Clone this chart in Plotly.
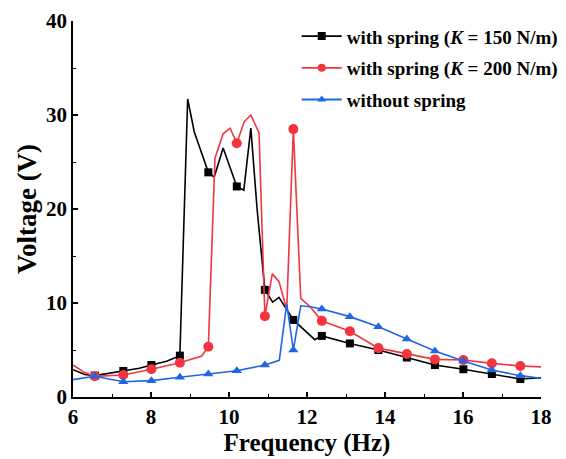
import plotly.graph_objects as go

# Frequencies at which the measured points are marked (shared by all curves)
marker_freq = [6.56, 7.29, 8.01, 8.74, 9.47, 10.20, 10.92, 11.65,
               12.38, 13.10, 13.83, 14.56, 15.28, 16.01, 16.74, 17.47]

# With spring, K = 150 N/m
freq_k150 = [6.00, 6.30, 6.56, 7.29, 7.70, 8.01, 8.40, 8.74, 8.94, 9.11,
             9.47, 9.62, 9.85, 10.20, 10.38, 10.56, 10.72, 10.92, 11.12,
             11.28, 11.65, 12.20, 12.38, 13.10, 13.83, 14.56, 15.28, 16.01,
             16.74, 17.47, 18.00]
volt_k150 = [2.90, 2.40, 2.27, 2.77, 3.05, 3.40, 3.80, 4.40, 31.7, 28.2,
             23.9, 23.4, 26.5, 22.4, 22.0, 28.6, 20.0, 11.4, 10.1,
             10.6, 8.2, 6.1, 6.5, 5.7, 5.0, 4.2, 3.4, 2.95,
             2.45, 1.91, 2.05]

# With spring, K = 200 N/m
freq_k200 = [6.00, 6.30, 6.56, 7.29, 8.01, 8.40, 8.74, 9.30, 9.47, 9.64,
             9.85, 10.03, 10.20, 10.39, 10.56, 10.77, 10.92, 11.11, 11.28,
             11.48, 11.65, 11.84, 12.08, 12.38, 13.10, 13.83, 14.56, 15.28,
             16.01, 16.74, 17.47, 18.00]
volt_k200 = [3.40, 2.60, 2.20, 2.34, 2.95, 3.30, 3.65, 4.36, 5.35, 25.4,
             28.0, 28.6, 27.0, 29.3, 30.0, 28.1, 8.6, 13.1, 12.3,
             9.3, 28.5, 10.5, 9.6, 8.1, 7.0, 5.2, 4.57, 4.0,
             3.94, 3.58, 3.30, 3.20]

# Without spring
freq_none = [6.00, 6.56, 7.29, 8.01, 8.74, 9.47, 10.20, 10.92, 11.29,
             11.48, 11.65, 11.84, 12.08, 12.38, 13.10, 13.83, 14.56, 15.28,
             16.01, 16.74, 17.47, 18.00]
volt_none = [1.85, 2.20, 1.63, 1.74, 2.10, 2.45, 2.80, 3.40, 3.90,
             9.90, 5.00, 9.70, 9.60, 9.36, 8.55, 7.48, 6.17, 4.89,
             3.83, 2.87, 2.27, 2.00]

series = [
    ("with spring (<i>K</i> = 150 N/m)", freq_k150, volt_k150, "#000000", "square", 8),
    ("with spring (<i>K</i> = 200 N/m)", freq_k200, volt_k200, "#f2353f", "circle", 10),
    ("without spring", freq_none, volt_none, "#1f66e5", "triangle-up", 9),
]

fig = go.Figure()
for i, (name, fx, vy, color, symbol, msize) in enumerate(series):
    # continuous response curve
    fig.add_trace(go.Scatter(x=fx, y=vy, mode="lines", showlegend=False,
                             line=dict(color=color, width=1.6)))
    # marked measurement points taken from the same curve
    mx = [f for f in fx if f in marker_freq]
    my = [v for f, v in zip(fx, vy) if f in marker_freq]
    fig.add_trace(go.Scatter(x=mx, y=my, mode="markers", showlegend=False,
                             marker=dict(color=color, symbol=symbol, size=msize)))
    # legend entry
    fig.add_trace(go.Scatter(x=[None], y=[None], mode="lines+markers", name=name,
                             legendgroup=f"g{i}",
                             line=dict(color=color, width=1.8),
                             marker=dict(color=color, symbol=symbol, size=8)))

serif = "Liberation Serif"
tick_font = dict(family=serif, size=21, color="black", weight="bold")

fig.update_layout(
    width=566, height=459,
    margin=dict(l=73, r=25, t=21, b=62, autoexpand=False),
    paper_bgcolor="white", plot_bgcolor="white",
    font=dict(family=serif, color="black"),
    xaxis=dict(range=[6, 18], tick0=6, dtick=2, showgrid=False, zeroline=False,
               showline=True, linecolor="black", linewidth=1.5, automargin=False,
               ticks="inside", ticklen=5, tickwidth=1.5, tickcolor="black",
               minor=dict(dtick=1, ticks="inside", ticklen=3, tickcolor="black", tickwidth=1.2),
               tickfont=tick_font,
               title=dict(text="Frequency (Hz)", standoff=6,
                          font=dict(family=serif, size=25, color="black", weight="bold"))),
    yaxis=dict(range=[0, 40], tick0=0, dtick=10, showgrid=False, zeroline=False,
               showline=True, linecolor="black", linewidth=1.5, automargin=False,
               ticks="inside", ticklen=5, tickwidth=1.5, tickcolor="black",
               minor=dict(dtick=5, ticks="inside", ticklen=3, tickcolor="black", tickwidth=1.2),
               tickfont=tick_font,
               title=dict(text="Voltage (V)", standoff=2,
                          font=dict(family=serif, size=27, color="black", weight="bold"))),
    legend=dict(x=0.478, y=1.01, xanchor="left", yanchor="top",
                bgcolor="rgba(0,0,0,0)", borderwidth=0,
                font=dict(family=serif, size=19, color="black", weight="bold"),
                tracegroupgap=4, itemwidth=40),
)

fig.write_html("out.html")
